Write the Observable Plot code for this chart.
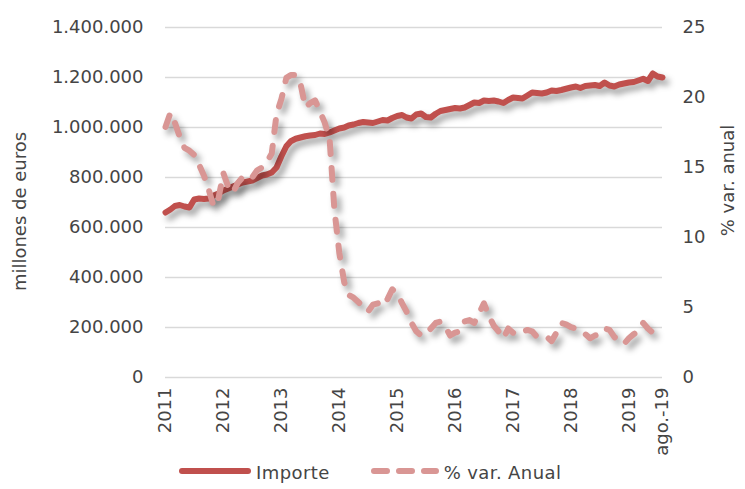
<!DOCTYPE html>
<html><head><meta charset="utf-8">
<script src="https://cdn.jsdelivr.net/npm/d3@7"></script>
<script src="https://cdn.jsdelivr.net/npm/@observablehq/plot@0.6"></script>
<style>
body{margin:0;background:#fff;font-family:"DejaVu Sans",sans-serif;}
#chart svg{display:block}
.legend{display:flex;align-items:center;height:24px;margin-left:178px;font-size:18px;color:#454545;}
.legend svg{display:block}
.legend span{margin:0 40px 0 4px;letter-spacing:0.4px}
</style></head><body>
<div id="chart"></div>
<div class="legend">
  <svg width="74" height="14"><line x1="4" y1="6" x2="70" y2="6" stroke="#c0504d" stroke-width="6" stroke-linecap="round"/></svg><span>Importe</span>
  <svg width="70" height="14"><line x1="4" y1="6" x2="66" y2="6" stroke="#d99694" stroke-width="6" stroke-linecap="round" stroke-dasharray="13,12"/></svg><span>% var. Anual</span>
</div>
<script>
const xLabels = ["2011","2012","2013","2014","2015","2016","2017","2018","2019","ago.-19"];
const leftTicks = [0,200000,400000,600000,800000,1000000,1200000,1400000];
const pctTicks = [0,5,10,15,20,25];
const leftTitle = "millones de euros";
const rightTitle = "% var. anual";

const importe = [
 660000,672000,686000,690000,684000,680000,712000,716000,714000,716000,728000,736000,
 748000,756000,764000,772000,780000,784000,788000,798000,808000,812000,820000,840000,
 885000,925000,945000,955000,960000,965000,968000,970000,976000,974000,980000,988000,
 996000,1000000,1008000,1012000,1018000,1022000,1020000,1018000,1024000,1030000,1028000,1038000,
 1046000,1050000,1040000,1036000,1052000,1056000,1042000,1040000,1055000,1066000,1070000,1074000,
 1078000,1076000,1080000,1090000,1100000,1098000,1108000,1106000,1108000,1104000,1098000,1110000,
 1120000,1118000,1116000,1128000,1140000,1138000,1136000,1140000,1148000,1146000,1150000,1155000,
 1160000,1164000,1158000,1166000,1168000,1170000,1166000,1180000,1168000,1164000,1172000,1176000,
 1180000,1182000,1188000,1195000,1186000,1216000,1204000,1200000
];
const pct = [
 17.9,18.9,18.2,17.2,16.4,16.2,15.9,15.2,14.4,13.4,12.2,12.8,
 14.6,13.6,13.2,13.9,14.3,14.1,14.3,14.8,15.0,15.4,16.0,18.8,
 19.9,21.4,21.6,21.6,21.0,19.3,19.6,19.8,19.0,18.2,17.0,12.0,
 8.9,6.8,5.9,5.7,5.4,5.0,4.7,5.2,5.3,5.1,5.6,6.3,
 6.0,5.3,4.7,3.9,3.3,3.0,3.1,3.5,3.9,4.0,3.6,3.0,
 3.2,3.3,4.0,4.1,3.9,4.6,5.3,4.4,3.7,3.3,2.8,3.5,
 3.2,3.1,3.3,3.4,3.3,2.9,2.9,2.9,2.6,3.2,3.9,3.8,
 3.6,3.5,3.3,3.1,2.8,3.0,3.1,3.5,3.4,2.9,2.6,2.4,
 2.8,3.1,3.3,3.9,3.5,3.2,3.0,2.9
];

const months = d3.utcMonth.range(new Date(Date.UTC(2011,0,1)), new Date(Date.UTC(2019,7,2)));
const tickDates = [...d3.utcYear.range(new Date(Date.UTC(2011,0,1)), new Date(Date.UTC(2019,1,1))), months[months.length-1]];
const labelFor = new Map(tickDates.map((d,i)=>[+d, xLabels[i]]));
const data = months.map((d,i)=>({date:d, importe:importe[i], pct:pct[i]}));

const k = 1400000/25;
const es = d3.formatLocale({decimal:",", thousands:".", grouping:[3], currency:["","€"]});
const fmt = es.format(",d");
const txt = "#454545";

const chart = Plot.plot({
  width:745, height:460,
  marginLeft:165, marginRight:83, marginTop:27, marginBottom:83,
  style:{fontFamily:"DejaVu Sans, sans-serif", fontSize:"18px", color:txt, background:"white", overflow:"visible"},
  x:{type:"utc", domain:[months[0], months[months.length-1]]},
  y:{domain:[0,1400000]},
  marks:[
    Plot.gridY({ticks:leftTicks, stroke:"#d9d9d9", strokeOpacity:1, strokeWidth:1.5}),
    Plot.axisY({ticks:leftTicks, tickFormat:fmt, tickSize:0, tickPadding:22, label:null, fill:txt}),
    Plot.axisY({anchor:"right", ticks:pctTicks.map(v=>v*k), tickFormat:v=>String(Math.round(v/k)), tickSize:0, tickPadding:20, label:null, fill:txt}),
    Plot.axisX({ticks:tickDates, tickFormat:d=>labelFor.get(+d), tickRotate:-90, tickSize:0, tickPadding:10, label:null, fill:txt}),
    Plot.text([leftTitle], {text:d=>d, frameAnchor:"left", textAnchor:"middle", rotate:-90, dx:-145, dy:9, fill:txt, fontSize:18}),
    Plot.text([rightTitle], {text:d=>d, frameAnchor:"right", textAnchor:"middle", rotate:-90, dx:66, dy:-22, fill:txt, fontSize:18}),
    Plot.lineY(data, {x:"date", y:"importe", stroke:"#c0504d", strokeWidth:6, strokeLinecap:"round", strokeLinejoin:"round"}),
    Plot.lineY(data, {x:"date", y:d=>d.pct*k, stroke:"#d99694", strokeWidth:6, strokeDasharray:"12,14", strokeLinecap:"round", strokeLinejoin:"round"})
  ]
});
d3.select(chart).selectAll('g[aria-label="line"]').style("filter","drop-shadow(4px 5px 3px rgba(0,0,0,0.38))");
document.getElementById("chart").appendChild(chart);
</script>
</body></html>
